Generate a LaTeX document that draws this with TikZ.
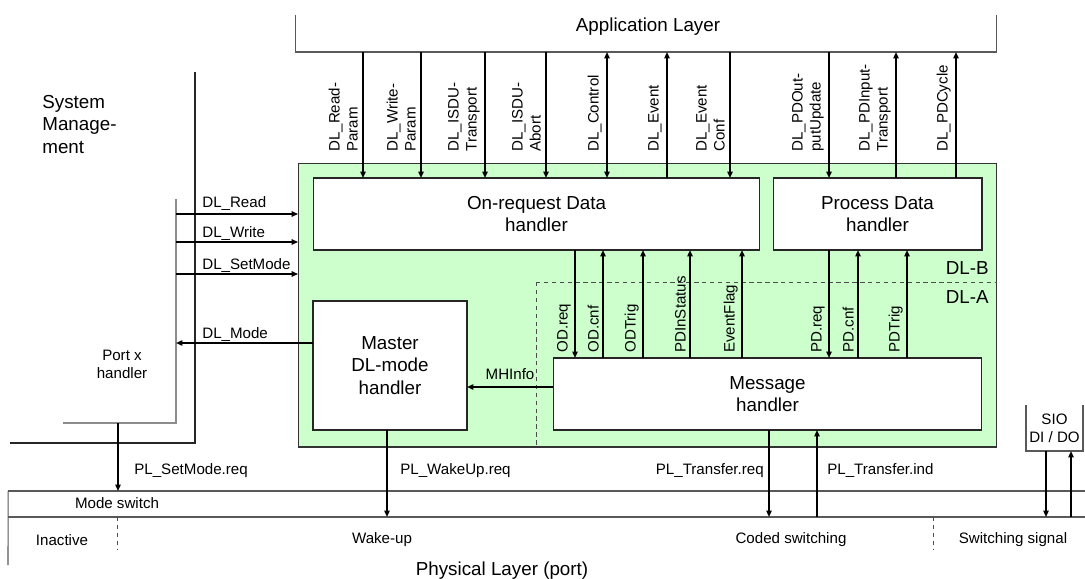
\documentclass[tikz,border=0pt]{standalone}
\usepackage{fontspec}
\setmainfont{Liberation Sans}
\usetikzlibrary{arrows.meta}
\definecolor{dlgreen}{RGB}{204,255,204}

\begin{document}
\begin{tikzpicture}[
  x=0.02cm, y=-0.02cm,
  font=\fontsize{10.7}{12.8}\selectfont,
  frame/.style={inner sep=0pt, outer sep=0pt},
  handler/.style={frame,
    draw=black!85, fill=white, line width=0.6pt, align=center
  },
  border/.style={draw=black!65, line width=0.6pt},
  sig/.style={line width=0.85pt, -{Triangle[length=3.6pt,width=3pt]}},
  sigboth/.style={line width=0.85pt,
    {Triangle[length=3.6pt,width=3pt]}-{Triangle[length=3.6pt,width=3pt]}},
  small/.style={font=\fontsize{8.6}{10.2}\selectfont, inner sep=0pt},
  vlab/.style={small, rotate=90, anchor=south west, align=left},
  layer/.style={draw=black!70, line width=0.5pt, dash pattern=on 2.5pt off 2pt},
]
\useasboundingbox (0,0) rectangle (1085,578);

% Data link layer frame and its handlers
\node[frame, draw=black!80, fill=dlgreen, line width=0.6pt,
      minimum width=13.98cm, minimum height=5.68cm] (dl) at (647.5,305) {};
\node[handler, minimum width=8.94cm, minimum height=1.44cm] (odh) at (536.5,214)
  {On-request Data\\handler};
\node[handler, minimum width=4.18cm, minimum height=1.44cm] (pdh) at (877.5,214)
  {Process Data\\handler};
\node[handler, minimum width=3.08cm, minimum height=2.58cm] (mdh) at (390,365.5)
  {Master\\DL-mode\\handler};
\node[handler, minimum width=8.58cm, minimum height=1.44cm] (msg) at (767.5,394)
  {Message\\handler};

% DL-B / DL-A border
\draw[layer] (536,282) -- (dl.east |- 0,282);
\draw[layer] (536,282) -- (536,0 |- dl.south);
\node[anchor=east, inner sep=0pt] (dlb) at (989,268) {DL-B};
\node[anchor=east, inner sep=0pt] (dla) at (989,297) {DL-A};

% Application layer (open at the top)
\node[frame, minimum width=14.04cm, minimum height=0.74cm] (app) at (646,33.5) {};
\draw[border] (app.north west) -- (app.south west) -- (app.south east) -- (app.north east);
\node (applbl) at (648,27) {Application Layer};

% Services between application layer and handlers
\draw[sig] (363,0 |- app.south) -- (363,0 |- odh.north);
\draw[sig] (421,0 |- app.south) -- (421,0 |- odh.north);
\draw[sig] (485,0 |- app.south) -- (485,0 |- odh.north);
\draw[sig] (546,0 |- app.south) -- (546,0 |- odh.north);
\draw[sigboth] (607,0 |- app.south) -- (607,0 |- odh.north);
\draw[sig] (667,0 |- odh.north) -- (667,0 |- app.south);
\draw[sig] (730,0 |- app.south) -- (730,0 |- odh.north);
\draw[sig] (829,0 |- app.south) -- (829,0 |- pdh.north);
\draw[sig] (896,0 |- pdh.north) -- (896,0 |- app.south);
\draw[sig] (956,0 |- pdh.north) -- (956,0 |- app.south);

\node[vlab] (lrp) at (358,152) {DL\_Read-\\Param};
\node[vlab] (lwp) at (416,152) {DL\_Write-\\Param};
\node[vlab] (lit) at (480,152) {DL\_ISDU-\\Transport};
\node[vlab] (lia) at (541,152) {DL\_ISDU-\\Abort};
\node[vlab] (lctl) at (602,152) {DL\_Control};
\node[vlab] (lev) at (662,152) {DL\_Event};
\node[vlab] (levc) at (725,152) {DL\_Event\\Conf};
\node[vlab] (lpdo) at (824,152) {DL\_PDOut-\\putUpdate};
\node[vlab] (lpdi) at (891,152) {DL\_PDInput-\\Transport};
\node[vlab] (lpdc) at (951,152) {DL\_PDCycle};

% Between handlers and message handler
\draw[sig] (575,0 |- odh.south) -- (575,0 |- msg.north);
\draw[sig] (603,0 |- msg.north) -- (603,0 |- odh.south);
\draw[sig] (643,0 |- msg.north) -- (643,0 |- odh.south);
\draw[sig] (690,0 |- msg.north) -- (690,0 |- odh.south);
\draw[sig] (742,0 |- msg.north) -- (742,0 |- odh.south);
\draw[sig] (829,0 |- pdh.south) -- (829,0 |- msg.north);
\draw[sig] (858,0 |- msg.north) -- (858,0 |- pdh.south);
\draw[sig] (907,0 |- msg.north) -- (907,0 |- pdh.south);

\node[vlab] (lodr) at (571,353) {OD.req};
\node[vlab] (lodc) at (599,353) {OD.cnf};
\node[vlab] (lodt) at (639,353) {ODTrig};
\node[vlab] (lpis) at (686,353) {PDInStatus};
\node[vlab] (lefl) at (738,353) {EventFlag};
\node[vlab] (lpdr) at (825,353) {PD.req};
\node[vlab] (lpdcn) at (854,353) {PD.cnf};
\node[vlab] (lpdt) at (903,353) {PDTrig};

\draw[sig] (msg.west |- 0,387) -- node[small, above=3.5pt] (mhi) {MHInfo} (mdh.east |- 0,387);

% System management and port x handler
\draw[black!85, line width=0.6pt] (195,72) -- (195,443) -- (10,443);
\draw[black!45, line width=0.6pt] (176,199) coordinate (ptop) -- (176,423) coordinate (pbot) -- (63,423);
\node[anchor=west, align=left, inner sep=0pt] (sysm) at (42,124.5) {System\\Manage-\\ment};
\node[small, align=center] (portx) at (122,364) {Port x\\handler};

\draw[sig] (ptop |- 0,214) -- (dl.west |- 0,214);
\draw[sig] (ptop |- 0,242) -- (dl.west |- 0,242);
\draw[sig] (ptop |- 0,274) -- (dl.west |- 0,274);
\draw[sig] (mdh.west |- 0,343) -- (pbot |- 0,343);
\node[small, anchor=base west] (lrd) at (202,207) {DL\_Read};
\node[small, anchor=base west] (lwr) at (202,237) {DL\_Write};
\node[small, anchor=base west] (lsm) at (202,269) {DL\_SetMode};
\node[small, anchor=base west] (lmd) at (202,338) {DL\_Mode};

% Physical layer with mode switch
\node[frame, minimum width=21.54cm, minimum height=0.52cm] (band) at (546.5,504) {};
\draw[border] (band.north west) -- (band.north east);
\draw[border] (band.south west) -- (band.south east);
\draw[border] (band.north west) -- (8,565);
\node[small] (modesw) at (117,503) {Mode switch};

\node[frame, small, align=center, minimum width=1.14cm, minimum height=0.92cm] (sio)
  at (1054.5,428) {SIO\\DI / DO};
\draw[border] (sio.north west) -- (sio.south west) -- (sio.south east) -- (sio.north east);

\draw[sig] (118,0 |- pbot) -- (118,0 |- band.north);
\draw[sig] (387,0 |- mdh.south) -- (387,0 |- band.south);
\draw[sig] (769,0 |- msg.south) -- (769,0 |- band.south);
\draw[sig] (817,0 |- band.south) -- (817,0 |- msg.south);
\draw[sig] (1046,0 |- sio.south) -- (1046,0 |- band.south);
\draw[sig] (1071,0 |- band.south) -- (1071,0 |- sio.south);
\node[small, anchor=west] (plsm) at (134,471) {PL\_SetMode.req};
\node[small, anchor=west] (plwu) at (400,471) {PL\_WakeUp.req};
\node[small, anchor=east] (pltr) at (764,471) {PL\_Transfer.req};
\node[small, anchor=west] (plti) at (827,471) {PL\_Transfer.ind};

\draw[layer] (117,0 |- band.south) -- (117,550);
\draw[layer] (933,0 |- band.south) -- (933,550);
\node[small] (inact) at (62,540) {Inactive};
\node[small] (wake) at (382,540) {Wake-up};
\node[small] (coded) at (791,540) {Coded switching};
\node[small] (swsig) at (1013,540) {Switching signal};
\node (phys) at (502,571) {Physical Layer (port)};

\end{tikzpicture}
\end{document}
